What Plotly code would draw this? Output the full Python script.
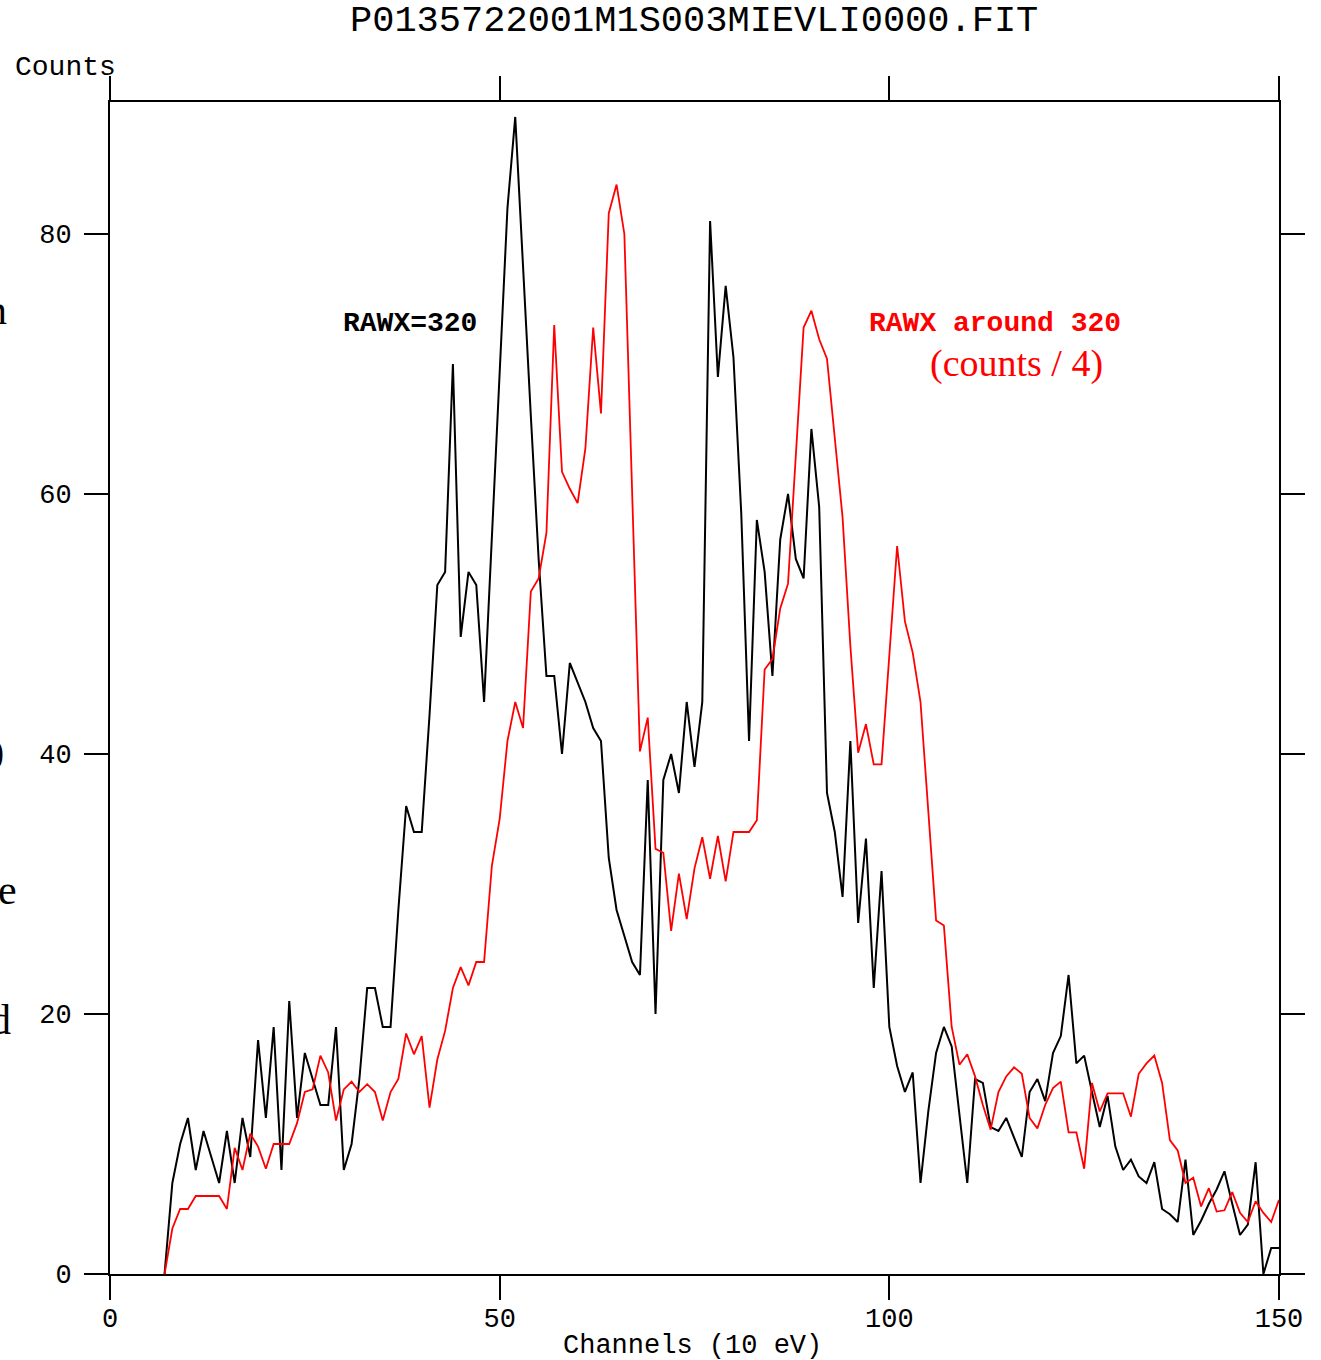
import plotly.graph_objects as go

# ---- data -------------------------------------------------------------
channels = list(range(7, 151))

rawx_320 = [
    0, 7, 10, 12, 8, 11, 9, 7, 11, 7,            # 7-16
    12, 9, 18, 12, 19, 8, 21, 12, 17, 15,        # 17-26
    13, 13, 19, 8, 10, 15, 22, 22, 19, 19,       # 27-36
    28, 36, 34, 34, 43, 53, 54, 70, 49, 54,      # 37-46
    53, 44, 57, 70, 82, 89, 77, 66, 55, 46,      # 47-56
    46, 40, 47, 45.5, 44, 42, 41, 32, 28, 26,    # 57-66
    24, 23, 38, 20, 38, 40, 37, 44, 39, 44,      # 67-76
    81, 69, 76, 70.5, 58.5, 41, 58, 54, 46, 56.5,  # 77-86
    60, 55, 53.5, 65, 59, 37, 34, 29, 41, 27,    # 87-96
    33.5, 22, 31, 19, 16, 14, 15.5, 7, 12.5, 17,  # 97-106
    19, 17.5, 12, 7, 15, 14.7, 11.3, 11, 12, 10.5,  # 107-116
    9, 14, 15, 13.3, 17, 18.3, 23, 16.2, 16.8, 14,  # 117-126
    11.3, 13.7, 9.8, 8, 8.8, 7.5, 7, 8.6, 5, 4.6,  # 127-136
    4, 8.8, 3, 4.1, 5.4, 6.5, 7.9, 5.4, 3, 3.8,  # 137-146
    8.6, 0, 2, 2,                                # 147-150
]

rawx_around_320 = [
    0, 3.5, 5, 5, 6, 6, 6, 6, 5, 9.7,            # 7-16
    8, 10.8, 9.8, 8.1, 10, 10, 10, 11.6, 14, 14.2,  # 17-26
    16.8, 15.5, 11.8, 14.2, 14.8, 14, 14.6, 14, 11.8, 14,  # 27-36
    15, 18.5, 16.9, 18.3, 12.8, 16.5, 18.7, 22, 23.6, 22.2,  # 37-46
    24, 24, 31.4, 35, 41, 44, 42, 52.5, 53.5, 57,  # 47-56
    73, 61.7, 60.4, 59.3, 63.5, 72.8, 66.2, 81.6, 83.8, 80,  # 57-66
    59.5, 40.2, 42.8, 32.7, 32.4, 26.4, 30.8, 27.3, 31.2, 33.6,  # 67-76
    30.4, 33.7, 30.2, 34, 34, 34, 34.9, 46.5, 47.3, 51.2,  # 77-86
    53.1, 63.3, 72.8, 74.1, 71.9, 70.4, 64.3, 58.2, 48.3, 40.1,  # 87-96
    42.3, 39.2, 39.2, 47.6, 56, 50.2, 47.8, 44, 35.6, 27.2,  # 97-106
    26.8, 19, 16.1, 16.9, 15.2, 13, 11.1, 14, 15.2, 15.9,  # 107-116
    15.4, 12, 11.2, 13, 14.3, 14.8, 10.9, 10.9, 8.1, 14.7,  # 117-126
    12.5, 13.9, 13.9, 13.9, 12.1, 15.4, 16.2, 16.8, 14.7, 10.3,  # 127-136
    9.5, 7, 7.4, 5.2, 6.6, 4.8, 4.9, 6.3, 4.7, 4,  # 137-146
    5.6, 4.7, 4, 5.7,                            # 147-150
]

x_ticks = [0, 50, 100, 150]
y_ticks = [0, 20, 40, 60, 80]

title_text = "P0135722001M1S003MIEVLI0000.FIT"
x_title = "Channels (10 eV)"
y_title = "Counts"
label_black = "RAWX=320"
label_red = "RAWX around 320"
label_red2 = "(counts / 4)"
edge_fragments = ["n", "0", "e", "d"]

# ---- layout helpers (pixel -> paper) -----------------------------------
W, H = 1321, 1360
L, R, T, B = 110, 1279, 102, 1274
PW, PH = R - L, B - T


def px(x):
    return (x - L) / PW


def py(y):
    return (B - y) / PH


MONO = "Liberation Mono, Courier New, monospace"
SERIF = "Liberation Serif, Times New Roman, serif"

fig = go.Figure()
fig.add_trace(go.Scatter(x=channels, y=rawx_320, mode="lines",
                         line=dict(color="black", width=2), showlegend=False))
fig.add_trace(go.Scatter(x=channels, y=rawx_around_320, mode="lines",
                         line=dict(color="#ff0000", width=1.8), showlegend=False))

axis_common = dict(
    showline=True, linecolor="black", linewidth=2, mirror="ticks",
    ticks="outside", ticklen=24, tickwidth=2, tickcolor="black",
    showgrid=False, zeroline=False,
    tickfont=dict(family=MONO, size=27, color="black"),
)

fig.update_xaxes(range=[0, 150], tickvals=x_ticks, ticklabelstandoff=-5, **axis_common)
fig.update_yaxes(range=[0, 90.15], tickvals=y_ticks, ticklabelstandoff=7, **axis_common)

ann = []
ann.append(dict(text=title_text, x=px(694), y=py(21), xanchor="center", yanchor="middle",
                font=dict(family=MONO, size=37, color="black")))
ann.append(dict(text=y_title, x=px(13), y=py(67), xanchor="left", yanchor="middle",
                font=dict(family=MONO, size=28, color="black")))
ann.append(dict(text=x_title, x=px(692), y=py(1346), xanchor="center", yanchor="middle",
                font=dict(family=MONO, size=27, color="black")))
ann.append(dict(text="<b>" + label_black + "</b>", x=px(410), y=py(323), xanchor="center",
                yanchor="middle", font=dict(family=MONO, size=28, color="black")))
ann.append(dict(text="<b>" + label_red + "</b>", x=px(995), y=py(323), xanchor="center",
                yanchor="middle", font=dict(family=MONO, size=28, color="#ff0000")))
ann.append(dict(text=label_red2, x=px(1016), y=py(363), xanchor="center", yanchor="middle",
                font=dict(family=SERIF, size=38, color="#ff0000")))

frag_pos = [(9, 310), (6, 755), (19, 890), (13, 1020)]
for t, (fx, fy) in zip(edge_fragments, frag_pos):
    ann.append(dict(text=t, x=px(fx), y=py(fy), xanchor="right", yanchor="middle",
                    font=dict(family=SERIF, size=42, color="black")))

for a in ann:
    a.update(xref="paper", yref="paper", showarrow=False)

fig.update_layout(
    width=W, height=H,
    margin=dict(l=L, r=W - R, t=T, b=H - B, pad=0),
    paper_bgcolor="white", plot_bgcolor="white",
    annotations=ann,
)

fig.write_html("out.html", config={"displayModeBar": False},
               post_script="document.body.style.margin='0px';")
